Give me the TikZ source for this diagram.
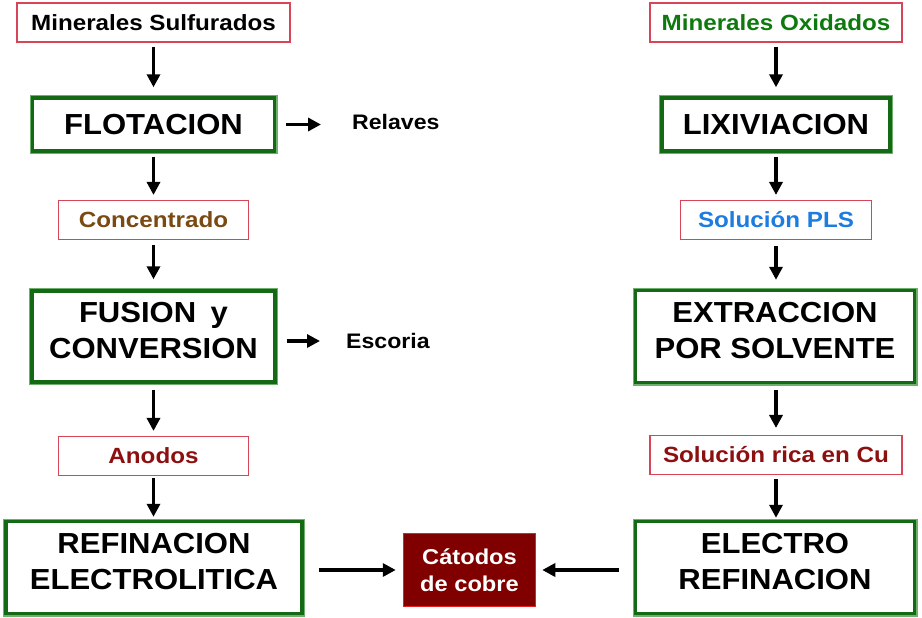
\documentclass[tikz,border=0pt]{standalone}
\usepackage{fontspec}
\usetikzlibrary{arrows.meta}
\newfontfamily\bigf{Liberation Sans Bold}[FakeStretch=1.07]
\newfontfamily\smf{Liberation Sans Bold}[FakeStretch=1.1]
\definecolor{dkgreen}{RGB}{20,105,20}
\definecolor{ltgreen}{RGB}{110,175,110}
\definecolor{pinkred}{RGB}{214,70,88}
\definecolor{brownt}{RGB}{122,74,18}
\definecolor{darkredt}{RGB}{140,16,16}
\definecolor{bluet}{RGB}{28,124,224}
\definecolor{greent}{RGB}{14,122,14}
\definecolor{catfill}{RGB}{128,0,0}
\definecolor{catdraw}{RGB}{230,32,30}
\tikzset{
  greenbox/.style={draw=dkgreen, line width=3.4pt, fill=white,
    preaction={draw=ltgreen, line width=6pt},
    align=center, inner sep=0pt, font=\bigf\fontsize{29}{36}\selectfont},
  thinbox/.style={draw=pinkred, line width=1.1pt, align=center, inner sep=0pt,
    minimum height=39pt, font=\smf\fontsize{22}{26}\selectfont},
  sidelabel/.style={inner sep=0pt, anchor=west, font=\smf\fontsize{21}{24}\selectfont},
  flow/.style={line width=3.8pt, -{Triangle[length=13pt,width=13pt]}},
}
\begin{document}
\begin{tikzpicture}[x=1pt,y=-1pt]
\useasboundingbox (0,0) rectangle (922,618);
% left column
\node[thinbox, minimum width=273pt] (ms) at (153.5,22.5) {Minerales Sulfurados};
\node[greenbox, minimum width=242pt, minimum height=53pt] (flot) at (153.5,124.5) {FLOTACION};
\node[thinbox, text=brownt, minimum width=190pt] (conc) at (153.5,220) {Concentrado};
\node[greenbox, minimum width=243pt, minimum height=91pt] (fus) at (153.5,336.5) {FUSION\enspace y\\CONVERSION\rule[-12pt]{0pt}{0pt}};
\node[thinbox, text=darkredt, minimum width=190pt] (anod) at (153.5,456) {Anodos};
\node[greenbox, minimum width=296pt, minimum height=92pt] (refi) at (154,567.5) {REFINACION\\ELECTROLITICA\rule[-12pt]{0pt}{0pt}};
\node[sidelabel] (rel) at (352,122) {Relaves};
\node[sidelabel] (esc) at (346,341) {Escoria};
% right column
\node[thinbox, text=greent, minimum width=252pt] (mo) at (776,22.5) {Minerales Oxidados};
\node[greenbox, minimum width=228pt, minimum height=53pt] (lix) at (776,124.5) {LIXIVIACION};
\node[thinbox, text=bluet, minimum width=191pt] (pls) at (776,220) {Solución PLS};
\node[greenbox, minimum width=279pt, minimum height=92pt] (ext) at (775,336.5) {EXTRACCION\\POR SOLVENTE\rule[-12pt]{0pt}{0pt}};
\node[thinbox, text=darkredt, minimum width=252pt] (rica) at (776,455) {Solución rica en Cu};
\node[greenbox, minimum width=279pt, minimum height=92pt] (elec) at (775,567.5) {ELECTRO\\REFINACION\rule[-12pt]{0pt}{0pt}};
% cathodes
\node[draw=catdraw, fill=catfill, line width=1.5pt, text=white, align=center,
  minimum width=132pt, minimum height=73pt, inner sep=0pt,
  font=\smf\fontsize{21.5}{27}\selectfont] (cat) at (469.5,570) {Cátodos\\de cobre};
% arrows left
\draw[flow, shorten <=4pt, shorten >=9pt] (ms.south -| flot) -- (flot.north);
\draw[flow, shorten <=4pt, shorten >=5pt] (flot.south) -- (conc.north);
\draw[flow, shorten <=5pt, shorten >=10pt] (conc.south) -- (fus.north);
\draw[flow, shorten <=6pt, shorten >=5pt] (fus.south) -- (anod.north);
\draw[flow, shorten <=2pt, shorten >=3pt] (anod.south) -- (refi.north -| anod);
\draw[flow, shorten <=10pt, shorten >=31pt] (flot.east) -- (flot.east -| rel.west);
\draw[flow, shorten <=10pt, shorten >=26pt] (fus.east |- esc) -- (esc.west);
% arrows right
\draw[flow, shorten <=4pt, shorten >=9pt] (mo.south) -- (lix.north);
\draw[flow, shorten <=4pt, shorten >=5pt] (lix.south) -- (pls.north);
\draw[flow, shorten <=6pt, shorten >=9pt] (pls.south) -- (ext.north -| pls);
\draw[flow, shorten <=6pt, shorten >=7pt] (ext.south -| rica) -- (rica.north);
\draw[flow, shorten <=4pt, shorten >=2pt] (rica.south) -- (elec.north -| rica);
% to cathodes
\draw[flow, shorten <=15pt, shorten >=7pt] (refi.east |- cat) -- (cat.west);
\draw[flow, shorten <=15pt, shorten >=6pt] (elec.west |- cat) -- (cat.east);
\end{tikzpicture}
\end{document}
